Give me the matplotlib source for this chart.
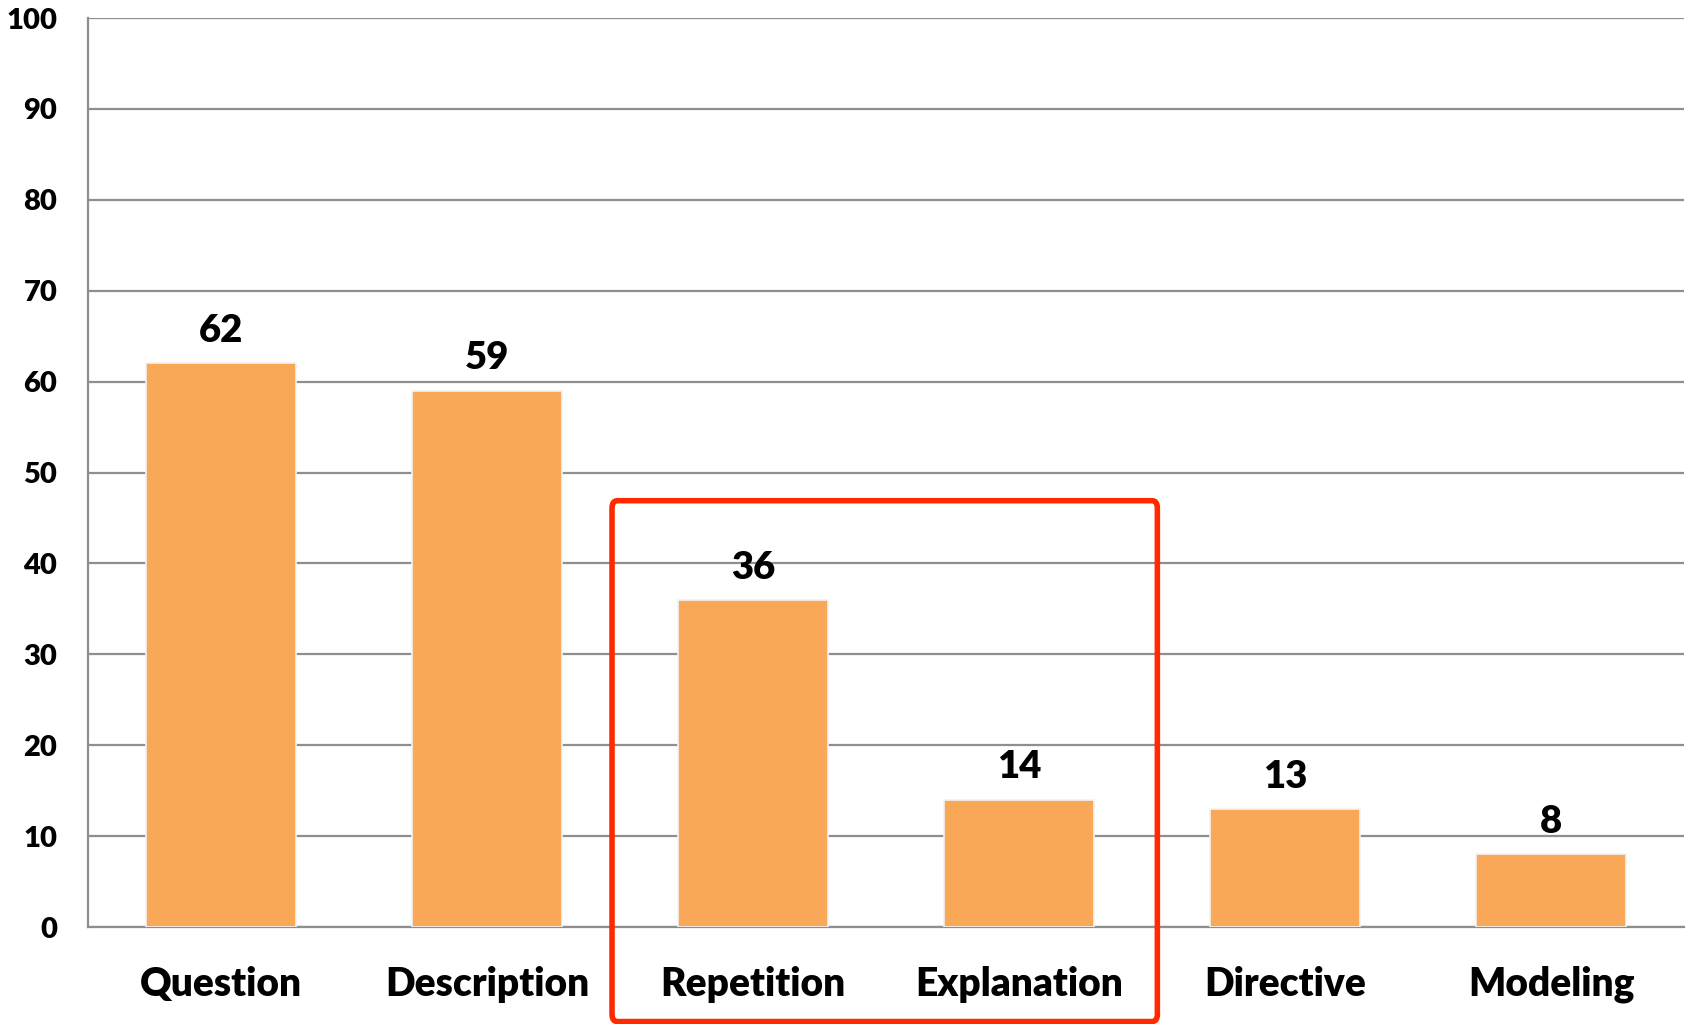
import matplotlib.pyplot as plt
from matplotlib.patches import FancyBboxPatch

categories = ["Question", "Description", "Repetition", "Explanation", "Directive", "Modeling"]
counts = [62, 59, 36, 14, 13, 8]
y_ticks = [0, 10, 20, 30, 40, 50, 60, 70, 80, 90, 100]

plt.rcParams["font.family"] = ["Lato", "DejaVu Sans"]
plt.rcParams["font.weight"] = "heavy"

fig = plt.figure(figsize=(16.92, 10.24), dpi=100)
ax = fig.add_axes([0.052, 0.0947, 0.9433, 0.8877])

x = range(len(categories))
ax.bar(x, counts, width=0.565, color="#F8A857", edgecolor="#f2f2f2", linewidth=1.2, zorder=3)

for i, v in zip(x, counts):
    ax.annotate(str(v), (i, v), xytext=(0, 11), textcoords="offset points",
                ha="center", va="bottom", fontsize=27.5, fontweight="heavy")

ax.set_xlim(-0.5, len(categories) - 0.5)
ax.set_ylim(0, 100)
ax.set_yticks(y_ticks)
ax.set_yticklabels([str(t) for t in y_ticks], fontsize=21, fontweight="heavy")
ax.set_xticks(list(x))
ax.set_xticklabels(categories, fontsize=28, fontweight="heavy")
ax.tick_params(axis="both", length=0)
ax.tick_params(axis="y", pad=22)
ax.tick_params(axis="x", pad=28)

ax.yaxis.grid(True, color="#8e8e8e", linewidth=1.6, zorder=0)
for s in ["top", "right"]:
    ax.spines[s].set_visible(False)
for s in ["left", "bottom"]:
    ax.spines[s].set_color("#8e8e8e")
    ax.spines[s].set_linewidth(1.6)

# red highlight box around Repetition / Explanation
box = FancyBboxPatch((1.47, -10.4), 2.05, 57.3, boxstyle="round,pad=0,rounding_size=0.02",
                     fill=False, edgecolor="#FF2A00", linewidth=4, clip_on=False, zorder=5,
                     mutation_aspect=40)
ax.add_patch(box)

fig.savefig("out.png", dpi=100)
